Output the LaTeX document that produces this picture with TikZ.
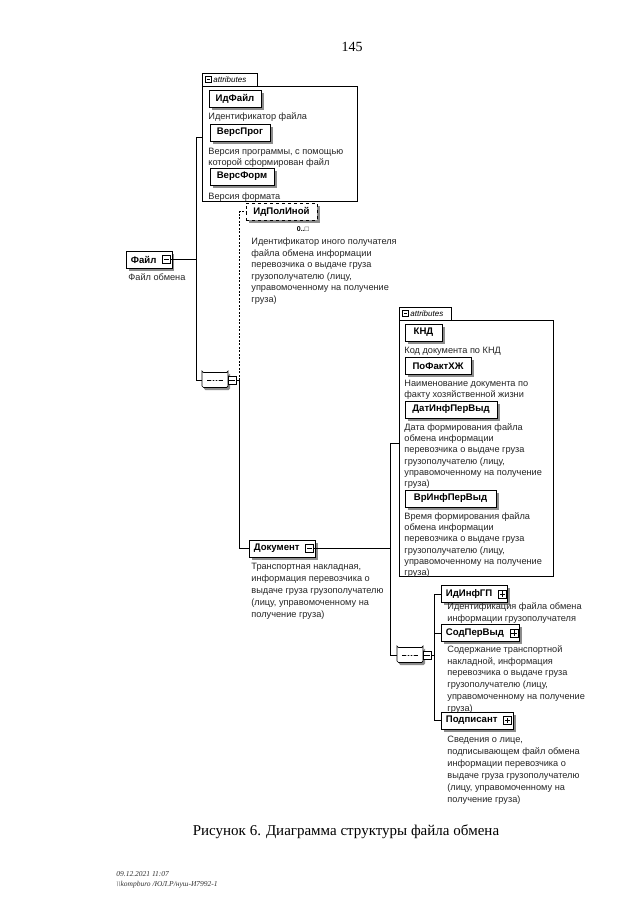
\documentclass[tikz,border=0pt]{standalone}
\usepackage{fontspec}
\setmainfont{Liberation Sans}
\newfontfamily\seriffont{Liberation Serif}
\usetikzlibrary{shapes.misc,shadows}
\begin{document}
\begin{tikzpicture}[x=1pt,y=-1pt,line width=0.8pt,
  elem/.style={draw, line width=0.7pt, fill=white, font=\bfseries\fontsize{9.6}{11}\selectfont,
    inner sep=0pt, minimum height=17pt,
    drop shadow={shadow xshift=2.5pt, shadow yshift=-2.5pt, fill=black!45, opacity=1}},
  elemx/.style={elem, anchor=west, inner xsep=4.5pt},
  optelem/.style={elem, dashed},
  desc/.style={anchor=north west, align=left, inner sep=0pt, font=\fontsize{9.2}{11.6}\selectfont, text=black!85},
  xbox/.style={draw, fill=white, minimum size=8pt, inner sep=0pt, line width=0.5pt},
  minusx/.style={xbox, path picture={\draw[line width=0.5pt] ([xshift=1.4pt]path picture bounding box.west) -- ([xshift=-1.4pt]path picture bounding box.east);}},
  plusx/.style={xbox, path picture={\draw[line width=0.5pt] ([xshift=1.4pt]path picture bounding box.west) -- ([xshift=-1.4pt]path picture bounding box.east);
      \draw[line width=0.5pt] ([yshift=-1.4pt]path picture bounding box.north) -- ([yshift=1.4pt]path picture bounding box.south);}},
  attrbox/.style={draw, line width=0.8pt, fill=white, inner sep=0pt},
  attrtab/.style={draw, line width=0.8pt, fill=white, inner sep=0pt, minimum height=13pt, anchor=north west,
    font=\itshape\fontsize{8}{9}\selectfont, align=left, text width=#1},
  seqnode/.style={chamfered rectangle, chamfered rectangle xsep=4pt, draw, fill=white, line width=0.7pt,
    minimum width=26pt, minimum height=15pt, inner sep=0pt, rounded corners=1.5pt,
    drop shadow={shadow xshift=2pt, shadow yshift=-2.5pt, fill=black!45, opacity=1},
    path picture={\draw[line width=0.6pt] ([xshift=-8pt]path picture bounding box.center) -- ([xshift=8pt]path picture bounding box.center);
      \foreach \d in {-3,0,3} \fill ([xshift=\d pt]path picture bounding box.center) circle (1.2pt);}},
  conn/.style={line width=0.8pt},
  optconn/.style={line width=0.8pt, dashed, dash pattern=on 2pt off 1.5pt}
]
\useasboundingbox (0,0) rectangle (640,905);
\fill[white] (0,0) rectangle (640,905);

% page number
\node[font=\seriffont\fontsize{14}{16}\selectfont] (pg) at (352,47) {145};

% ---------- attributes of Файл ----------
\node[attrbox, minimum width=155pt, minimum height=115pt] (at1) at (279.5,143.5) {};
\node[attrtab=55pt] (at1tab) at (202,73) {\hspace*{11pt}attributes};
\node[minusx, minimum size=6pt] (at1x) at (208.5,79.5) {};

\node[elem, minimum width=52pt] (idf) at (235,98.5) {ИдФайл};
\node[desc] (idfd) at (208,110.9) {\strut Идентификатор файла};
\node[elem, minimum width=60pt] (vp) at (240,132.5) {ВерсПрог};
\node[desc, font=\fontsize{9.2}{11}\selectfont] (vpd) at (208,146.3) {\strut Версия программы, с помощью\\которой сформирован файл};
\node[elem, minimum width=64pt] (vf) at (242,176.5) {ВерсФорм};
\node[desc] (vfd) at (208,190.9) {\strut Версия формата};

% ---------- Файл ----------
\node[elemx] (file) at (126,259.5) {Файл\kern11pt};
\node[minusx, anchor=east] (filex) at ([xshift=-1.5pt]file.east) {};
\node[desc] (filed) at (128,271.9) {\strut Файл обмена};

% ---------- ИдПолИной ----------
\node[optelem, minimum width=71pt] (idpi) at (281.5,211.5) {ИдПолИной};
\node[inner sep=0pt, anchor=base, font=\bfseries\fontsize{7}{8}\selectfont] (idpim) at (303,231) {0..□};
\node[desc] (idpid) at (251,235.9) {\strut Идентификатор иного получателя\\файла обмена информации\\перевозчика о выдаче груза\\грузополучателю (лицу,\\управомоченному на получение\\груза)};

% ---------- sequence 1 ----------
\node[seqnode] (seq1) at (215,380) {};
\node[minusx, minimum size=8pt] (seq1x) at (232,380) {};

% ---------- Документ ----------
\node[elemx] (doc) at (249,548.5) {Документ\kern11pt};
\node[minusx, anchor=east] (docx) at ([xshift=-1.5pt]doc.east) {};
\node[desc, font=\fontsize{9.2}{12}\selectfont] (docd) at (251,560.6) {\strut Транспортная накладная,\\информация перевозчика о\\выдаче груза грузополучателю\\(лицу, управомоченному на\\получение груза)};

% ---------- attributes of Документ ----------
\node[attrbox, minimum width=154pt, minimum height=256pt] (at2) at (476,448) {};
\node[attrtab=52pt] (at2tab) at (399,307) {\hspace*{11pt}attributes};
\node[minusx, minimum size=6pt] (at2x) at (405.5,313.5) {};

\node[elem, minimum width=37pt] (knd) at (423.5,332.5) {КНД};
\node[desc] (kndd) at (404,344.9) {\strut Код документа по КНД};
\node[elem, minimum width=66pt] (pfh) at (438,366) {ПоФактХЖ};
\node[desc, font=\fontsize{9.2}{11}\selectfont] (pfhd) at (404,378.3) {\strut Наименование документа по\\факту хозяйственной жизни};
\node[elem, minimum width=92pt] (dat) at (451,409.5) {ДатИнфПерВыд};
\node[desc, font=\fontsize{9.2}{11.2}\selectfont] (datd) at (404,422.2) {\strut Дата формирования файла\\обмена информации\\перевозчика о выдаче груза\\грузополучателю (лицу,\\управомоченному на получение\\груза)};
\node[elem, minimum width=91pt] (vr) at (450.5,498.5) {ВрИнфПерВыд};
\node[desc, font=\fontsize{9.2}{11.2}\selectfont] (vrd) at (404,511.2) {\strut Время формирования файла\\обмена информации\\перевозчика о выдаче груза\\грузополучателю (лицу,\\управомоченному на получение\\груза)};

% ---------- sequence 2 ----------
\node[seqnode] (seq2) at (410,655) {};
\node[minusx, minimum size=8pt] (seq2x) at (427,655) {};

% ---------- children of Документ ----------
\node[elemx] (iig) at (441,594) {ИдИнфГП\kern11pt};
\node[plusx, anchor=east] (iigx) at ([xshift=-1.5pt]iig.east) {};
\node[desc] (iigd) at (447,601.4) {\strut Идентификация файла обмена\\информации грузополучателя};
\node[elemx] (spv) at (441,633) {СодПерВыд\kern11pt};
\node[plusx, anchor=east] (spvx) at ([xshift=-1.5pt]spv.east) {};
\node[desc, font=\fontsize{9.2}{11.8}\selectfont] (spvd) at (447,643.7) {\strut Содержание транспортной\\накладной, информация\\перевозчика о выдаче груза\\грузополучателю (лицу,\\управомоченному на получение\\груза)};
\node[elemx] (pod) at (441,720.5) {Подписант\kern11pt};
\node[plusx, anchor=east] (podx) at ([xshift=-1.5pt]pod.east) {};
\node[desc, font=\fontsize{9.2}{12}\selectfont] (podd) at (447,733.6) {\strut Сведения о лице,\\подписывающем файл обмена\\информации перевозчика о\\выдаче груза грузополучателю\\(лицу, управомоченному на\\получение груза)};

% ---------- junction coordinates ----------
\coordinate (j1t) at (196,137);
\coordinate (j1m) at (196,259.5);
\coordinate (j1b) at (196,380);
\coordinate (j2t) at (239,211.5);
\coordinate (j2m) at (239,380);
\coordinate (j2b) at (239,548.5);
\coordinate (j3t) at (390,443);
\coordinate (j3m) at (390,548.5);
\coordinate (j3b) at (390,655);
\coordinate (j4t) at (434,594);
\coordinate (j4m) at (434,633);
\coordinate (j4n) at (434,655);
\coordinate (j4b) at (434,720.5);

% ---------- connectors ----------
\draw[conn] (filex.east) -- (j1m);
\draw[conn] (at1.west |- j1t) -- (j1t) -- (j1b) -- (seq1.west);
\draw[conn] (seq1x.east) -- (j2m);
\draw[optconn] (j2m) -- (j2t) -- (idpi.west);
\draw[conn] (j2m) -- (j2b) -- (doc.west);
\draw[conn] (docx.east) -- (j3m);
\draw[conn] (at2.west |- j3t) -- (j3t) -- (j3b) -- (seq2.west);
\draw[conn] (seq2x.east) -- (j4n);
\draw[conn] (iig.west) -- (j4t) -- (j4b) -- (pod.west);
\draw[conn] (j4m) -- (spv.west);

% ---------- caption and footer ----------
\node[font=\seriffont\fontsize{15}{17}\selectfont, anchor=base] (cap) at (346,835) {Рисунок 6. Диаграмма структуры файла обмена};
\node[font=\seriffont\itshape\fontsize{7.5}{10.5}\selectfont, anchor=north west, align=left, inner sep=0pt, text=black!80] (foot) at (116,868.6) {\strut 09.12.2021 11:07\\\textbackslash\textbackslash kompburo /ЮЛ.Р/нуш-И7992-1};
\end{tikzpicture}
\end{document}
